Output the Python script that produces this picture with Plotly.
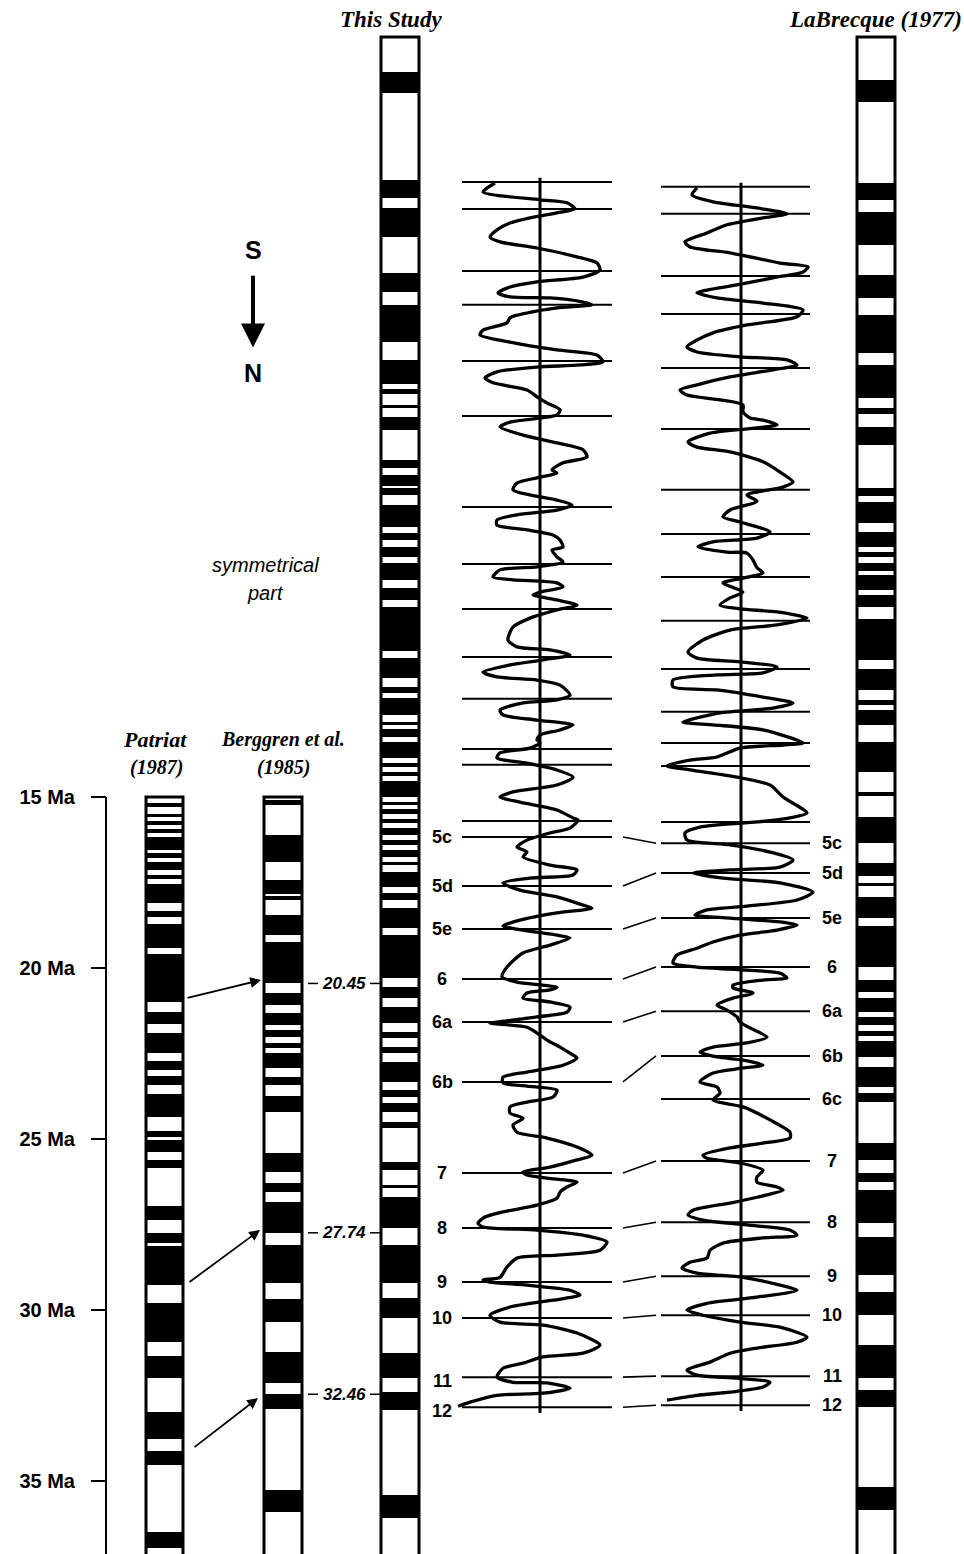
import plotly.graph_objects as go

# ---------------- DATA ----------------
# normal-polarity (black) blocks, [top, bottom] in Ma
patriat_black = [(15.18, 15.29), (15.50, 15.58), (15.70, 15.82), (15.94, 16.05), (16.17, 16.55),
                 (16.64, 16.78), (16.90, 17.13), (17.28, 17.40), (17.54, 18.10), (18.33, 18.51),
                 (18.71, 19.42), (19.59, 20.99), (21.29, 21.64), (21.90, 22.49), (22.72, 22.98),
                 (23.16, 23.42), (23.68, 24.36), (24.77, 24.94), (25.03, 25.38), (25.61, 25.85),
                 (26.96, 27.37), (27.75, 28.04), (28.13, 29.27), (29.80, 30.94), (31.35, 31.99),
                 (32.98, 33.77), (34.12, 34.53), (36.49, 36.96)]
berggren_black = [(15.09, 15.23), (16.11, 16.90), (17.43, 17.84), (17.89, 18.01), (18.45, 19.04),
                  (19.24, 20.45), (20.73, 21.08), (21.32, 21.67), (21.81, 22.02), (22.19, 22.34),
                  (22.49, 22.92), (23.19, 23.42), (23.74, 24.21), (25.41, 25.96), (26.29, 26.55),
                  (26.84, 27.74), (28.10, 29.21), (29.68, 30.35), (31.23, 32.13), (32.46, 32.90),
                  (35.26, 35.91)]
this_study_black = [(-6.20, -5.58), (-3.04, -2.51), (-2.22, -1.37), (-0.32, 0.23), (0.61, 1.70),
                    (2.22, 2.92), (3.07, 3.22), (3.54, 3.63), (3.89, 4.27), (5.15, 5.38),
                    (5.58, 5.91), (5.96, 6.17), (6.46, 7.11), (7.28, 7.49), (7.69, 7.98),
                    (8.16, 8.65), (8.89, 9.24), (9.44, 10.73), (10.94, 11.52), (11.78, 11.96),
                    (12.11, 12.60), (12.81, 12.89), (13.01, 13.25), (13.39, 13.86), (14.01, 14.12),
                    (14.27, 14.39), (14.53, 15.00), (15.15, 15.23), (15.35, 15.50), (15.64, 15.76),
                    (15.91, 16.11), (16.26, 16.40), (16.55, 16.75), (16.90, 16.99), (17.19, 17.63),
                    (17.81, 18.01), (18.25, 18.83), (19.04, 20.29), (20.56, 20.88), (21.14, 21.61),
                    (21.87, 22.05), (22.31, 22.49), (22.75, 23.33), (23.57, 23.77), (23.95, 24.21),
                    (24.50, 24.68), (25.67, 25.91), (26.35, 26.43), (26.70, 27.60), (28.10, 29.21),
                    (29.65, 30.23), (31.26, 31.99), (32.40, 32.92), (35.41, 36.08)]
labrecque_black = [(-5.96, -5.32), (-2.95, -2.46), (-2.11, -1.14), (-0.26, 0.41), (0.91, 2.02),
                   (2.37, 3.33), (3.63, 3.80), (4.18, 4.71), (5.96, 6.20), (6.37, 6.99),
                   (7.25, 7.69), (7.84, 7.98), (8.16, 8.39), (8.51, 8.95), (9.09, 9.44),
                   (9.80, 10.99), (11.26, 11.87), (12.16, 12.31), (12.46, 12.89), (13.39, 14.27),
                   (14.85, 14.97), (15.58, 16.35), (16.93, 17.31), (17.51, 17.60), (17.92, 18.54),
                   (18.77, 19.97), (20.35, 20.70), (20.88, 21.29), (21.43, 21.67), (21.84, 21.99),
                   (22.13, 22.60), (22.89, 23.48), (23.65, 23.92), (25.12, 25.61), (25.99, 26.26),
                   (26.49, 27.46), (27.87, 28.98), (29.47, 30.15), (31.02, 31.99), (32.34, 32.84),
                   (35.18, 35.85)]

# magnetic anomaly profiles: position (Ma scale) and amplitude (arbitrary units)
p1_age = [-2.95, -2.69, -2.46, -2.37, -2.19, -2.08, -1.93, -1.78, -1.58, -1.37, -1.23, -1.05, -0.79, -0.61,
          -0.41, -0.20, -0.06, 0.09, 0.26, 0.38, 0.41, 0.53, 0.61, 0.70, 0.85, 0.99, 1.14, 1.35, 1.49, 1.70,
          1.93, 2.08, 2.28, 2.37, 2.43, 2.57, 2.75, 2.89, 3.10, 3.30, 3.48, 3.68, 3.83, 4.04, 4.18, 4.42,
          4.65, 4.85, 5.06, 5.23, 5.44, 5.53, 5.67, 5.82, 6.02, 6.17, 6.32, 6.46, 6.61, 6.75, 6.90, 7.05,
          7.19, 7.34, 7.49, 7.69, 7.78, 7.98, 8.13, 8.27, 8.36, 8.57, 8.65, 8.74, 8.86, 9.01, 9.09, 9.24,
          9.39, 9.53, 9.77, 10.03, 10.41, 10.61, 10.70, 10.85, 10.99, 11.14, 11.35, 11.49, 11.58, 11.73,
          12.02, 12.16, 12.25, 12.46, 12.60, 12.75, 12.89, 13.04, 13.19, 13.33, 13.42, 13.57, 13.71, 13.86,
          14.01, 14.21, 14.42, 14.65, 14.85, 15.00, 15.15, 15.38, 15.61, 15.67, 15.91, 16.05, 16.26, 16.46,
          16.61, 16.75, 16.99, 17.13, 17.28, 17.37, 17.51, 17.72, 17.92, 18.16, 18.25, 18.39, 18.60, 18.77,
          18.89, 19.04, 19.12, 19.33, 19.56, 19.97, 20.26, 20.41, 20.50, 20.56, 20.64, 20.73, 20.88, 20.99,
          21.14, 21.29, 21.43, 21.58, 21.61, 21.73, 21.90, 22.02, 22.11, 22.31, 22.49, 22.63, 22.84, 23.04,
          23.19, 23.36, 23.45, 23.57, 23.77, 23.92, 24.06, 24.24, 24.39, 24.59, 24.80, 24.97, 25.23, 25.47,
          25.61, 25.82, 25.96, 26.05, 26.14, 26.26, 26.40, 26.55, 26.73, 26.93, 27.13, 27.28, 27.46, 27.57,
          27.66, 27.81, 28.01, 28.25, 28.39, 28.48, 28.74, 29.04, 29.12, 29.18, 29.27, 29.42, 29.56, 29.71,
          29.91, 30.15, 30.35, 30.44, 30.67, 31.02, 31.26, 31.37, 31.55, 31.70, 31.96, 32.11, 32.13, 32.28,
          32.43, 32.49, 32.69, 32.81]
p1_amp = [-45, -57, 0, 27, 35, 17, -10, -30, -43, -50, -40, -3, 37, 57,
          60, 43, -3, -30, -42, -30, 10, 43, 52, 17, -13, -30, -33, -57, -60, -30,
          17, 57, 63, 40, -3, -43, -55, -47, -13, -3, 7, 20, 17, -30, -40, -17,
          17, 43, 47, 23, 12, 17, -3, -23, -27, -10, 17, 32, 17, -23, -43, -43,
          -13, 13, 20, 23, 12, 17, 23, -3, -40, -47, -27, 17, 23, 0, -7, 17,
          37, 17, -10, -27, -32, -23, 10, 30, 3, -30, -57, -43, -3, 20,
          30, 17, -17, -40, -37, -3, 33, 20, 0, -3, 0, -10, -40, -43,
          -13, 17, 33, 17, -27, -40, -20, 17, 33, 38, 30, 10, -13, -23,
          -13, -17, 10, 37, 33, -10, -37, -20, 17, 43, 52, 17, -20, -37,
          -17, 17, 30, 10, -17, -33, -38, -23, 3, 17, 10, -13, -17, 10,
          30, 27, -3, -43, -50, -13, -3, 3, 7, 20, 30, 37, 23, -13,
          -37, -37, -13, 17, 13, -13, -30, -30, -17, -27, -23, 7, 37, 52,
          37, 10, -17, -13, 7, 37, 27, 20, 17, -3, -37, -55, -62, -57,
          -3, 43, 67, 60, 17, -23, -33, -40, -57, -50, -13, 30, 40, 13,
          -30, -50, -40, 3, 37, 60, 43, 3, -17, -37, -43, -27, 7, 30,
          3, -43, -70, -82]

p2_age = [-2.81, -2.60, -2.40, -2.22, -2.05, -1.93, -1.73, -1.49, -1.23, -1.08, -0.91, -0.61, -0.50, -0.35,
          -0.18, 0.03, 0.18, 0.26, 0.41, 0.56, 0.76, 0.96, 1.20, 1.43, 1.64, 1.84, 1.99, 2.13, 2.22, 2.37,
          2.51, 2.72, 2.95, 3.10, 3.25, 3.39, 3.54, 3.74, 3.92, 3.98, 4.12, 4.21, 4.36, 4.62, 4.77, 4.91,
          5.20, 5.50, 5.79, 5.94, 6.17, 6.35, 6.61, 6.81, 6.96, 7.25, 7.43, 7.54, 7.69, 7.84, 7.87, 8.07,
          8.30, 8.45, 8.60, 8.74, 9.01, 9.18, 9.39, 9.50, 9.59, 9.77, 9.97, 10.12, 10.41, 10.76, 10.94,
          11.05, 11.20, 11.37, 11.43, 11.58, 11.78, 11.87, 12.08, 12.25, 12.40, 12.54, 12.81, 12.89, 13.04,
          13.42, 13.48, 13.57, 13.83, 13.92, 14.09, 14.21, 14.42, 14.65, 15.00, 15.47, 15.61, 15.73, 15.88,
          16.05, 16.26, 16.40, 16.61, 16.84, 17.05, 17.13, 17.22, 17.37, 17.51, 17.78, 18.01, 18.19, 18.30,
          18.45, 18.54, 18.65, 18.74, 18.89, 19.04, 19.24, 19.42, 19.62, 19.85, 19.97, 20.06, 20.15, 20.29,
          20.35, 20.50, 20.58, 20.73, 20.88, 21.08, 21.23, 21.43, 21.58, 21.75, 22.02, 22.19, 22.31, 22.46,
          22.60, 22.69, 22.84, 22.92, 23.07, 23.33, 23.48, 23.65, 23.86, 24.06, 24.44, 24.80, 24.97, 25.12,
          25.26, 25.47, 25.56, 25.70, 25.91, 26.11, 26.26, 26.40, 26.49, 26.70, 26.87, 27.08, 27.22, 27.37,
          27.51, 27.66, 27.81, 27.89, 28.04, 28.25, 28.48, 28.60, 28.77, 28.92, 29.04, 29.27, 29.42, 29.62,
          29.80, 30.00, 30.15, 30.35, 30.50, 30.79, 30.94, 31.11, 31.26, 31.52, 31.75, 31.90, 31.99, 32.11,
          32.25, 32.40, 32.49, 32.63]
p2_amp = [-44, -49, -28, 16, 46, 22, -14, -34, -56, -51, -11, 39, 67, 62,
          32, -4, -34, -44, -24, 22, 62, 56, 6, -28, -44, -54, -44, -1, 46, 56,
          32, -11, -44, -61, -54, -21, 2, 2, 9, 22, 36, 16, -31, -53, -44, -11,
          22, 39, 52, 42, 6, 16, -11, -18, -1, 29, 16, -28, -43, -14, 6, 12,
          16, 22, 2, -18, 2, -11, -21, -1, 36, 66, 36, -11, -38, -53, -44,
          -1, 36, 22, -24, -68, -68, -24, 22, 52, 32, -21, -58, -28, 22,
          62, 42, -1, -24, -51, -74, -51, -4, 29, 42, 66, 49, 16, -41,
          -56, -54, -11, 29, 52, 39, -11, -48, -18, 39, 72, 56, 6, -34,
          -46, -11, 39, 56, 36, -1, -28, -44, -64, -68, -44, 6, 39, 46,
          22, -8, -8, 12, -8, -24, -14, -4, -1, 9, 26, 6, -28, -41,
          -24, 2, 22, 2, -28, -41, -24, -21, -28, 2, 29, 49, 49, 22,
          -11, -38, -34, -1, 22, 16, 16, 36, 42, 16, -11, -48, -53, -38,
          6, 49, 56, 22, -18, -31, -34, -51, -59, -44, 2, 39, 56, 16,
          -34, -54, -38, -1, 39, 66, 56, 16, -11, -31, -54, -44, -4, 29,
          22, -11, -44, -74]

# identified anomaly lines on each profile
p1_line_ages = [-2.98, -2.19, -0.38, 0.61, 2.25, 3.86, 6.52, 8.19, 9.50, 10.91, 12.13, 13.60, 14.06, 15.70,
                16.17, 17.60, 18.86, 20.32, 21.58, 23.33, 25.99, 27.60, 29.18, 30.23, 31.96, 32.84]
p1_line_labels = [''] * 14 + ['5c', '5d', '5e', '6', '6a', '6b', '7', '8', '9', '10', '11', '12']
p2_line_ages = [-2.84, -2.05, -0.23, 0.88, 2.46, 4.24, 6.02, 7.31, 8.57, 9.85, 11.26, 12.51, 13.42, 14.09,
                15.73, 16.35, 17.22, 18.54, 19.97, 21.26, 22.57, 23.83, 25.64, 27.43, 29.01, 30.15, 31.93,
                32.78]
p2_line_labels = [''] * 15 + ['5c', '5d', '5e', '6', '6a', '6b', '6c', '7', '8', '9', '10', '11', '12']

# Patriat -> Berggren correlations
corr_from_age = [20.88, 29.21, 34.04]
corr_to_age = [20.35, 27.66, 32.57]
berggren_tie_ages = [20.45, 27.74, 32.46]
age_ticks = [15, 20, 25, 30, 35]

# ---------------- LAYOUT CONSTANTS ----------------
W, H = 964, 1554
Y_TOP, Y_BOT = -8.30, 37.13
COL_TOP_LONG = -7.22
columns = [  # (blocks, x0, x1, top)
    (patriat_black, 146, 183, 15.0),
    (berggren_black, 264, 302, 15.0),
    (this_study_black, 381, 419, COL_TOP_LONG),
    (labrecque_black, 857, 895, COL_TOP_LONG),
]
AXIS_X = 106
P1_X0, P1_X1 = -78, 72
P2_X0, P2_X1 = -80, 69
SANS = "Liberation Sans"
SERIF = "Liberation Serif"

fig = go.Figure()
shapes = []
annotations = []

# ---- polarity columns ----
for blocks, x0, x1, top in columns:
    shapes.append(dict(type="rect", xref="x", yref="y", x0=x0, x1=x1, y0=top, y1=Y_BOT + 1,
                       line=dict(color="black", width=3), fillcolor="white", layer="below"))
    fig.add_trace(go.Bar(
        x=[(x0 + x1) / 2] * len(blocks),
        base=[b[0] for b in blocks],
        y=[b[1] - b[0] for b in blocks],
        width=x1 - x0,
        marker=dict(color="black", line=dict(width=0)),
        xaxis="x", yaxis="y", hoverinfo="skip", showlegend=False))

# ---- profiles ----
def hlines(ages, a0, a1):
    xs, ys = [], []
    for a in ages:
        xs += [a0, a1, None]
        ys += [a, a, None]
    return xs, ys

for ages, amps, lines, a0, a1, xa in [
        (p1_age, p1_amp, p1_line_ages, P1_X0, P1_X1, "x2"),
        (p2_age, p2_amp, p2_line_ages, P2_X0, P2_X1, "x3")]:
    xs, ys = hlines(lines, a0, a1)
    fig.add_trace(go.Scatter(x=xs, y=ys, mode="lines", line=dict(color="black", width=2),
                             xaxis=xa, yaxis="y", hoverinfo="skip", showlegend=False))
    fig.add_trace(go.Scatter(x=[0, 0], y=[lines[0] - 0.12, lines[-1] + 0.17], mode="lines",
                             line=dict(color="black", width=3),
                             xaxis=xa, yaxis="y", hoverinfo="skip", showlegend=False))
    fig.add_trace(go.Scatter(x=amps, y=ages, mode="lines",
                             line=dict(color="black", width=3.3, shape="spline", smoothing=0.7),
                             xaxis=xa, yaxis="y", hoverinfo="skip", showlegend=False))

# connectors between the two profiles
p2_lookup = {lab: a for lab, a in zip(p2_line_labels, p2_line_ages) if lab}
cx, cy = [], []
for lab, a in zip(p1_line_labels, p1_line_ages):
    if lab and lab in p2_lookup:
        cx += [623, 656, None]
        cy += [a, p2_lookup[lab], None]
fig.add_trace(go.Scatter(x=cx, y=cy, mode="lines", line=dict(color="black", width=1.6),
                         xaxis="x", yaxis="y", hoverinfo="skip", showlegend=False))

# anomaly labels
for lab, a in zip(p1_line_labels, p1_line_ages):
    if lab:
        annotations.append(dict(x=442, y=a, xref="x", yref="y", text=f"<b>{lab}</b>", showarrow=False,
                                font=dict(family=SANS, size=18, color="black"),
                                yshift=-4 if lab in ("11", "12") else 0))
for lab, a in zip(p2_line_labels, p2_line_ages):
    if lab:
        annotations.append(dict(x=832, y=a, xref="x", yref="y", text=f"<b>{lab}</b>", showarrow=False,
                                font=dict(family=SANS, size=18, color="black")))

# Patriat -> Berggren arrows
tail_x = [186, 188, 193]
head_x = [261, 260, 258]
for tx, hx, fa, ta in zip(tail_x, head_x, corr_from_age, corr_to_age):
    annotations.append(dict(x=hx, y=ta, ax=tx, ay=fa, xref="x", yref="y", axref="x", ayref="y",
                            text="", showarrow=True, arrowhead=2, arrowsize=1.2, arrowwidth=1.8,
                            arrowcolor="black"))

# Berggren tie ages
for a in berggren_tie_ages:
    shapes.append(dict(type="line", xref="x", yref="y", x0=308, x1=318, y0=a, y1=a,
                       line=dict(color="black", width=1.5)))
    shapes.append(dict(type="line", xref="x", yref="y", x0=370, x1=381, y0=a, y1=a,
                       line=dict(color="black", width=1.5)))
    annotations.append(dict(x=344, y=a, xref="x", yref="y", text=f"<b><i>{a:.2f}</i></b>",
                            showarrow=False, font=dict(family=SANS, size=17, color="black")))

# left age axis line
shapes.append(dict(type="line", xref="x", yref="y", x0=AXIS_X, x1=AXIS_X, y0=age_ticks[0], y1=Y_BOT + 1,
                   line=dict(color="black", width=2)))

# titles
def title(x, y, txt, size=20, family=SERIF):
    annotations.append(dict(x=x, y=y, xref="x", yref="y", text=txt, showarrow=False,
                            font=dict(family=family, size=size, color="black")))

title(391, -7.72, "<b><i>This Study</i></b>", 23)
title(875, -7.72, "<b><i>LaBrecque (1977)</i></b>", 23)
title(155, 13.33, "<b><i>Patriat</i></b>", 22)
title(156, 14.15, "<b><i>(1987)</i></b>", 20)
title(283, 13.33, "<b><i>Berggren et al.</i></b>", 20)
title(283, 14.15, "<b><i>(1985)</i></b>", 20)
title(265, 8.22, "<i>symmetrical</i>", 20, SANS)
title(265, 9.04, "<i>part</i>", 20, SANS)
title(253, -0.99, "<b>S</b>", 25, SANS)
title(253, 2.60, "<b>N</b>", 25, SANS)
annotations.append(dict(x=253, y=1.86, ax=253, ay=-0.28, xref="x", yref="y", axref="x", ayref="y",
                        text="", showarrow=True, arrowhead=2, arrowsize=1.2, arrowwidth=4,
                        arrowcolor="black"))

fig.update_layout(
    width=W, height=H, margin=dict(l=0, r=0, t=0, b=0),
    paper_bgcolor="white", plot_bgcolor="rgba(0,0,0,0)", barmode="overlay", bargap=0,
    showlegend=False, shapes=shapes, annotations=annotations,
    xaxis=dict(range=[0, W], domain=[0, 1], visible=False, fixedrange=True),
    xaxis2=dict(range=[-100, 100], domain=[440 / W, 640 / W], visible=False, anchor="y"),
    xaxis3=dict(range=[-100, 100], domain=[641 / W, 841 / W], visible=False, anchor="y"),
    yaxis=dict(range=[Y_BOT, Y_TOP], autorange=False, anchor="free", position=AXIS_X / W,
               showgrid=False, zeroline=False, showline=False,
               tickmode="array", tickvals=age_ticks, ticktext=[f"<b>{t} Ma</b>" for t in age_ticks],
               ticks="outside", ticklen=15, tickwidth=2, tickcolor="black",
               ticklabelstandoff=12,
               tickfont=dict(family=SANS, size=20, color="black")),
)

fig.write_html("out.html", config={"displayModeBar": False},
               post_script="document.body.style.margin='0';")
